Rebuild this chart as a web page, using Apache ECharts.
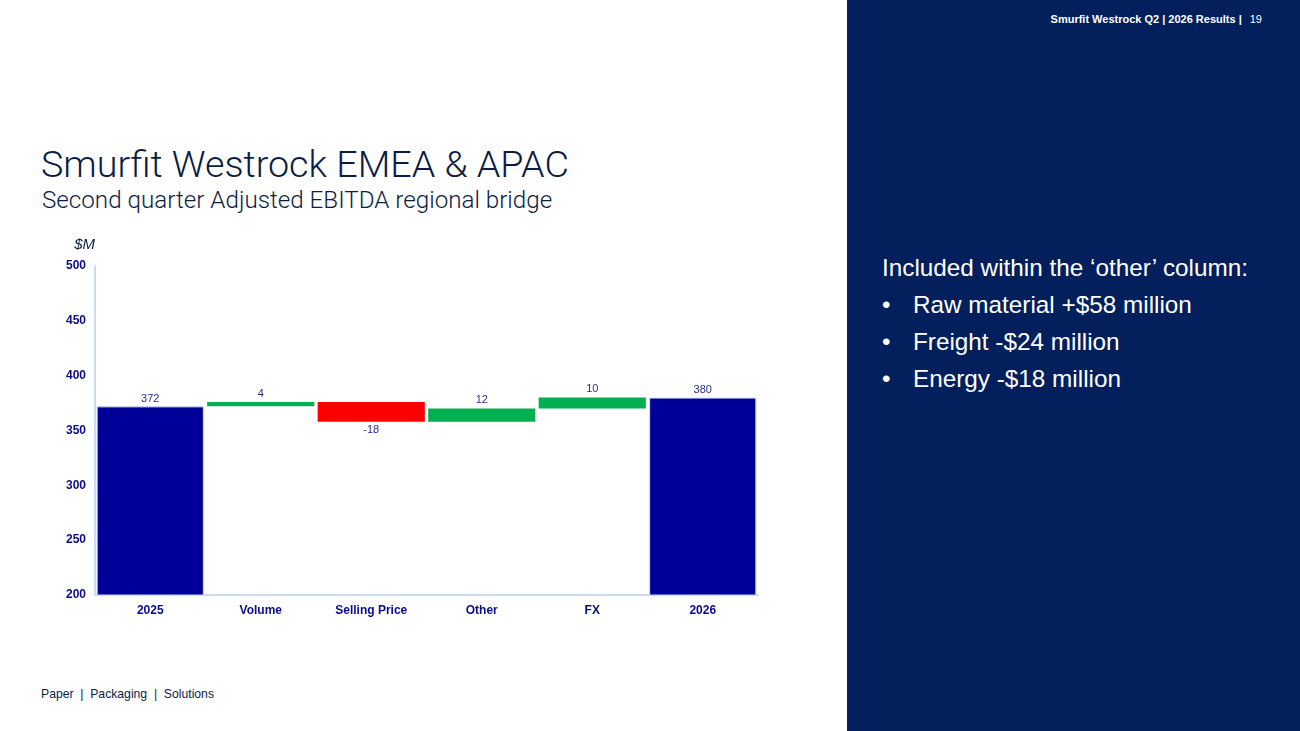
<!DOCTYPE html>
<html>
<head>
<meta charset="utf-8">
<script src="https://cdn.jsdelivr.net/npm/echarts@6/dist/echarts.min.js"></script>
<style>
  html, body { margin: 0; padding: 0; width: 1300px; height: 731px; overflow: hidden; background: #fff; font-family: "Liberation Sans", Arial, sans-serif; }
  .panel { position: absolute; left: 847px; top: 0; width: 453px; height: 731px; background: #03205c; }
  .hdr { position: absolute; right: 38px; top: 13px; color: #fff; font-size: 11px; font-weight: bold; }
  .hdr span { font-weight: normal; margin-left: 8px; }
  .title { position: absolute; left: 41px; top: 142px; color: #0b1d45; font-size: 37.7px; font-family: Roboto, "Liberation Sans", sans-serif; font-weight: 300; }
  .sub { position: absolute; left: 42px; top: 186px; color: #0b1d45; font-size: 24.2px; font-family: Roboto, "Liberation Sans", sans-serif; font-weight: 300; }
  .foot { position: absolute; left: 41px; top: 687px; color: #0b1d45; font-size: 12.2px; }
  .note { position: absolute; left: 882px; top: 249px; color: #fff; font-size: 24.3px; line-height: 37px; }
  .note .b { padding-left: 31px; position: relative; }
  .note .b:before { content: "\2022"; position: absolute; left: 0; }
  #chart { position: absolute; left: 0; top: 225px; width: 800px; height: 420px; }
</style>
</head>
<body>
<div class="panel"></div>
<div class="hdr">Smurfit Westrock Q2 | 2026 Results |<span>19</span></div>
<div class="title">Smurfit Westrock EMEA &amp; APAC</div>
<div class="sub">Second quarter Adjusted EBITDA regional bridge</div>
<div class="note">
  <div>Included within the ‘other’ column:</div>
  <div class="b">Raw material +$58 million</div>
  <div class="b">Freight -$24 million</div>
  <div class="b">Energy -$18 million</div>
</div>
<div class="foot">Paper&nbsp; |&nbsp; Packaging&nbsp; |&nbsp; Solutions</div>
<div id="chart"></div>
<script>
// bridge data ($M)
const categories = ['2025', 'Volume', 'Selling Price', 'Other', 'FX', '2026'];
const totals = [372, null, null, null, null, 380];
const changes = [null, 4, -18, 12, 10, null];
const yTicks = { min: 200, max: 500, step: 50 };

// running total -> invisible base + visible bar
let running = 0;
const baseData = [], upData = [], downData = [], totalData = [];
categories.forEach((c, i) => {
    if (totals[i] !== null) {
        running = totals[i];
        baseData.push('-'); upData.push('-'); downData.push('-');
        totalData.push(totals[i]);
    } else {
        const d = changes[i];
        totalData.push('-');
        if (d >= 0) {
            baseData.push(running); upData.push(d); downData.push('-');
        } else {
            baseData.push(running + d); upData.push('-'); downData.push(-d);
        }
        running += d;
    }
});

const labelColor = '#2b2f8f';
const axisFont = '"Liberation Sans Narrow", "Arial Narrow", "Liberation Sans", sans-serif';
const dom = document.getElementById('chart');
const chart = echarts.init(dom);
chart.setOption({
    animation: false,
    grid: { left: 95, right: 42, top: 41, bottom: 50 },
    xAxis: {
        type: 'category',
        data: categories,
        axisLine: { lineStyle: { color: '#c9dcf3', width: 2 } },
        axisTick: { show: false },
        axisLabel: { color: '#0c0c8a', fontWeight: 'bold', fontSize: 12, fontFamily: axisFont, margin: 10 }
    },
    yAxis: {
        type: 'value',
        min: yTicks.min, max: yTicks.max, interval: yTicks.step,
        name: '$M',
        nameLocation: 'end',
        nameGap: 14,
        nameTextStyle: { color: '#0b1d45', fontStyle: 'italic', fontSize: 15, align: 'right' },
        axisLine: { show: true, lineStyle: { color: '#c9dcf3', width: 2 } },
        axisTick: { show: false },
        splitLine: { show: false },
        axisLabel: { color: '#0c0c8a', fontWeight: 'bold', fontSize: 12, margin: 9, fontFamily: axisFont }
    },
    series: [
        {
            type: 'bar', stack: 'b', data: baseData, barCategoryGap: '3%',
            itemStyle: { color: 'transparent' }, silent: true
        },
        {
            type: 'bar', stack: 'b', data: totalData,
            itemStyle: { color: '#000099', borderColor: '#c9dcf3', borderWidth: 1 },
            label: { show: true, position: 'top', color: labelColor, fontSize: 11, distance: 2 }
        },
        {
            type: 'bar', stack: 'b', data: upData,
            itemStyle: { color: '#00b050' },
            label: { show: true, position: 'top', color: labelColor, fontSize: 11, distance: 3 }
        },
        {
            type: 'bar', stack: 'b', data: downData,
            itemStyle: { color: '#ff0000' },
            label: {
                show: true, position: 'bottom', color: labelColor, fontSize: 11, distance: 3,
                formatter: p => '-' + p.value
            }
        }
    ]
});
</script>
</body>
</html>
